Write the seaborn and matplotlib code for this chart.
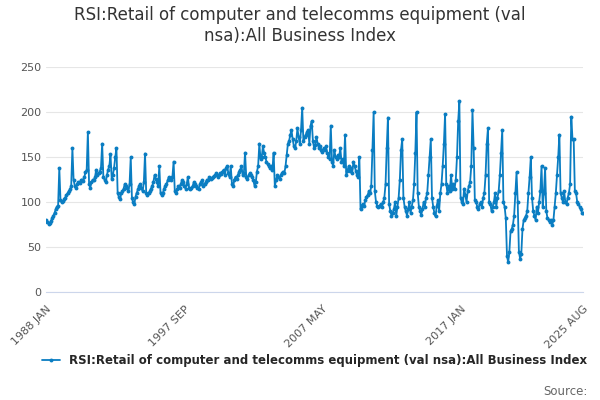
import numpy as np
import pandas as pd
import matplotlib
matplotlib.use("Agg")
import matplotlib.pyplot as plt
import seaborn as sns

# monthly index values, one row per year, 1988 JAN .. 2025 AUG
values_by_year = [
    [80, 78, 76, 77, 79, 82, 85, 88, 92, 95, 96, 138],
    [102, 100, 101, 103, 105, 108, 110, 112, 114, 118, 160, 125],
    [118, 116, 120, 122, 121, 124, 125, 123, 128, 133, 136, 178],
    [120, 116, 122, 125, 124, 128, 136, 130, 132, 134, 138, 165],
    [128, 125, 122, 130, 136, 140, 153, 126, 130, 138, 150, 160],
    [110, 106, 103, 110, 112, 115, 120, 118, 116, 112, 120, 150],
    [104, 100, 98, 106, 110, 114, 118, 120, 116, 112, 122, 154],
    [110, 108, 110, 112, 115, 118, 122, 130, 126, 122, 118, 140],
    [110, 108, 110, 115, 118, 120, 124, 128, 126, 124, 128, 145],
    [112, 110, 114, 118, 116, 120, 124, 122, 118, 115, 120, 128],
    [116, 114, 116, 118, 122, 120, 118, 116, 114, 120, 122, 124],
    [118, 120, 122, 125, 124, 128, 126, 127, 128, 129, 130, 132],
    [128, 130, 132, 131, 134, 136, 130, 138, 140, 132, 128, 140],
    [120, 118, 125, 128, 126, 130, 134, 136, 140, 130, 132, 155],
    [128, 126, 130, 132, 130, 128, 124, 118, 122, 134, 140, 165],
    [148, 150, 162, 155, 150, 145, 142, 140, 138, 140, 136, 155],
    [118, 124, 130, 128, 126, 130, 132, 134, 132, 140, 152, 165],
    [168, 175, 180, 170, 162, 160, 168, 182, 172, 165, 180, 205],
    [168, 172, 175, 178, 180, 165, 185, 190, 168, 160, 164, 172],
    [165, 160, 162, 158, 156, 160, 158, 162, 155, 150, 148, 185],
    [145, 140, 158, 150, 148, 152, 150, 160, 145, 148, 140, 175],
    [130, 135, 140, 135, 138, 132, 145, 140, 135, 130, 128, 150],
    [92, 96, 98, 96, 102, 106, 108, 112, 110, 118, 158, 200],
    [112, 100, 96, 94, 96, 98, 95, 100, 105, 120, 160, 194],
    [98, 90, 85, 88, 92, 100, 85, 95, 105, 125, 158, 170],
    [105, 95, 90, 85, 92, 100, 88, 95, 102, 120, 155, 200],
    [110, 95, 90, 86, 92, 100, 95, 105, 110, 130, 150, 170],
    [105, 95, 88, 84, 96, 102, 90, 110, 120, 140, 165, 198],
    [120, 110, 118, 112, 130, 115, 120, 115, 125, 150, 190, 212],
    [105, 100, 98, 115, 108, 100, 112, 118, 122, 140, 202, 160],
    [102, 100, 95, 92, 98, 100, 95, 105, 110, 130, 165, 182],
    [100, 98, 90, 95, 100, 110, 95, 105, 112, 130, 155, 180],
    [100, 95, 82, 40, 33, 45, 68, 70, 75, 85, 110, 133],
    [100, 45, 37, 42, 70, 80, 82, 85, 90, 110, 128, 150],
    [105, 90, 85, 80, 95, 88, 100, 112, 140, 95, 110, 138],
    [90, 82, 80, 78, 80, 75, 80, 95, 110, 130, 150, 175],
    [110, 105, 100, 112, 100, 98, 105, 110, 120, 195, 170, 170],
    [112, 110, 100, 98, 95, 92, 88, 88],
]
tick_labels = ["1988 JAN", "1997 SEP", "2007 MAY", "2017 JAN", "2025 AUG"]
series_name = "RSI:Retail of computer and telecomms equipment (val nsa):All Business Index"

values = [v for row in values_by_year for v in row]
df = pd.DataFrame({"month": np.arange(len(values)), "value": values})

sns.set_style("white")
fig, ax = plt.subplots(figsize=(6, 4), dpi=100)
color = "#0a7dc2"
sns.lineplot(data=df, x="month", y="value", ax=ax, color=color, lw=1.3,
             marker="o", markersize=2.8, markeredgewidth=0, label=series_name)

ax.set_ylim(0, 250)
ax.set_yticks(range(0, 251, 50))
ax.set_xlim(0, len(values) - 1)
ax.yaxis.grid(True, color="#e6e6e6", lw=0.8)
ax.set_xticks(np.arange(0, len(values), 29), minor=True)
ax.set_xticks([0, 116, 232, 348, 451])
ax.set_xticklabels(tick_labels, rotation=45, ha="right", rotation_mode="anchor")
ax.tick_params(axis="x", which="both", length=5, color="#ccd6eb", labelsize=8, labelcolor="#555555")
ax.tick_params(axis="y", length=0, labelsize=8, labelcolor="#555555")
ax.set_xlabel("")
ax.set_ylabel("")
for s in ["top", "right", "left"]:
    ax.spines[s].set_visible(False)
ax.spines["bottom"].set_color("#ccd6eb")

fig.suptitle("RSI:Retail of computer and telecomms equipment (val\nnsa):All Business Index",
             fontsize=12, color="#333333", y=0.985)
ax.legend(loc="upper center", bbox_to_anchor=(0.5, -0.23), frameon=False,
          handlelength=1.5, prop={"weight": "bold", "size": 8.5})
fig.text(0.98, 0.012, "Source:", ha="right", fontsize=8.5, color="#666666")
fig.subplots_adjust(left=0.077, right=0.972, top=0.832, bottom=0.27)
fig.savefig("out.png", dpi=100)
